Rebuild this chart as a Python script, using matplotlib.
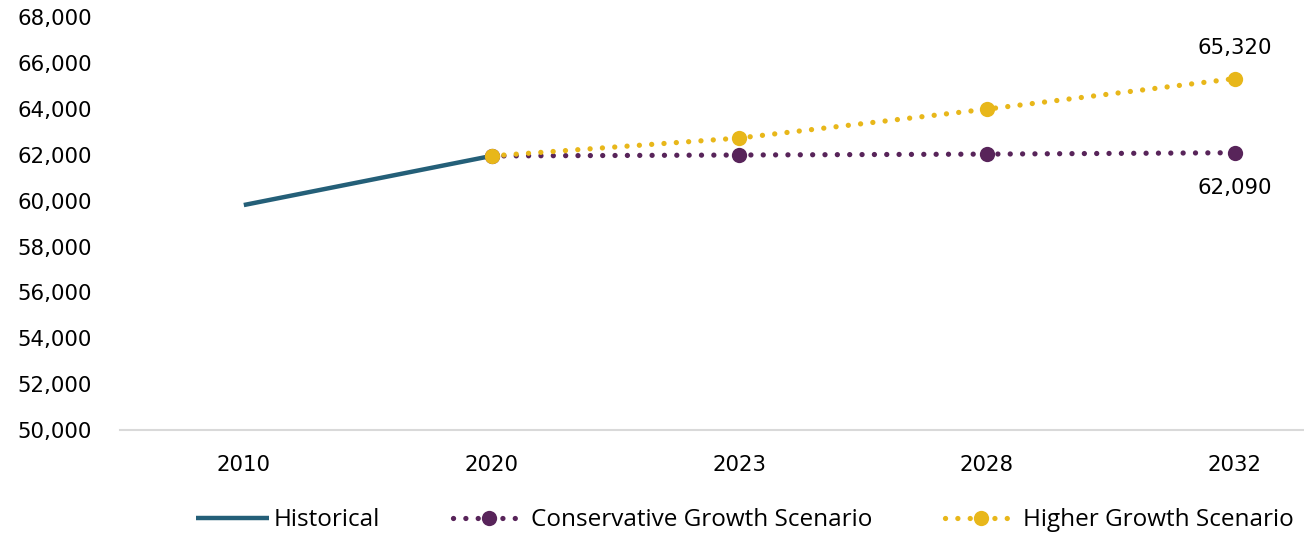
import numpy as np
import matplotlib.pyplot as plt
from matplotlib.ticker import FuncFormatter

# ---- data ----
years = ['2010', '2020', '2023', '2028', '2032']
historical = [59810, 61950]                      # 2010, 2020
conservative = [61950, 61990, 62030, 62090]      # 2020 -> 2032
higher = [61950, 62730, 63990, 65320]            # 2020 -> 2032

col_hist = '#245F78'
col_cons = '#58245A'
col_high = '#E8B71A'

plt.rcParams['font.family'] = ['DejaVu Sans']
plt.rcParams['font.size'] = 15.3

fig = plt.figure(figsize=(13.04, 5.35), dpi=100)
ax = fig.add_axes([0.092, 0.196, 0.908, 0.772])

x = np.arange(len(years))

ax.plot(x[:2], historical, color=col_hist, lw=3.2, solid_capstyle='butt',
        label='Historical', zorder=3)

dot_style = dict(lw=3.8, linestyle=(0, (0.01, 2.33)), dash_capstyle='round',
                 marker='o', markersize=11, markeredgewidth=0)
ax.plot(x[1:], conservative, color=col_cons, label='Conservative Growth Scenario',
        zorder=3, **dot_style)
ax.plot(x[1:], higher, color=col_high, label='Higher Growth Scenario',
        zorder=4, **dot_style)

# end-point labels
ax.annotate(f'{higher[-1]:,}', (x[-1], higher[-1]), xytext=(0, 15),
            textcoords='offset points', ha='center', va='bottom')
ax.annotate(f'{conservative[-1]:,}', (x[-1], conservative[-1]), xytext=(0, -18),
            textcoords='offset points', ha='center', va='top')

ax.set_xlim(-0.5, 4.28)
ax.set_ylim(50000, 68000)
ax.set_yticks(np.arange(50000, 68001, 2000))
ax.yaxis.set_major_formatter(FuncFormatter(lambda v, p: f'{int(v):,}'))
ax.set_xticks(x)
ax.set_xticklabels(years)
ax.tick_params(length=0, labelsize=15.3, colors='black')
ax.tick_params(axis='y', pad=20)
ax.tick_params(axis='x', pad=18)

for s in ['top', 'right', 'left']:
    ax.spines[s].set_visible(False)
ax.spines['bottom'].set_color('#D9D9D9')
ax.spines['bottom'].set_linewidth(1.5)

fig.legend(loc='center', bbox_to_anchor=(0.571, 0.028), ncol=3, frameon=False,
           handlelength=3.0, handletextpad=0.2, columnspacing=3.0,
           prop={'family': ['Open Sans', 'DejaVu Sans'], 'size': 17.5})

fig.savefig('out.png', dpi=100)
